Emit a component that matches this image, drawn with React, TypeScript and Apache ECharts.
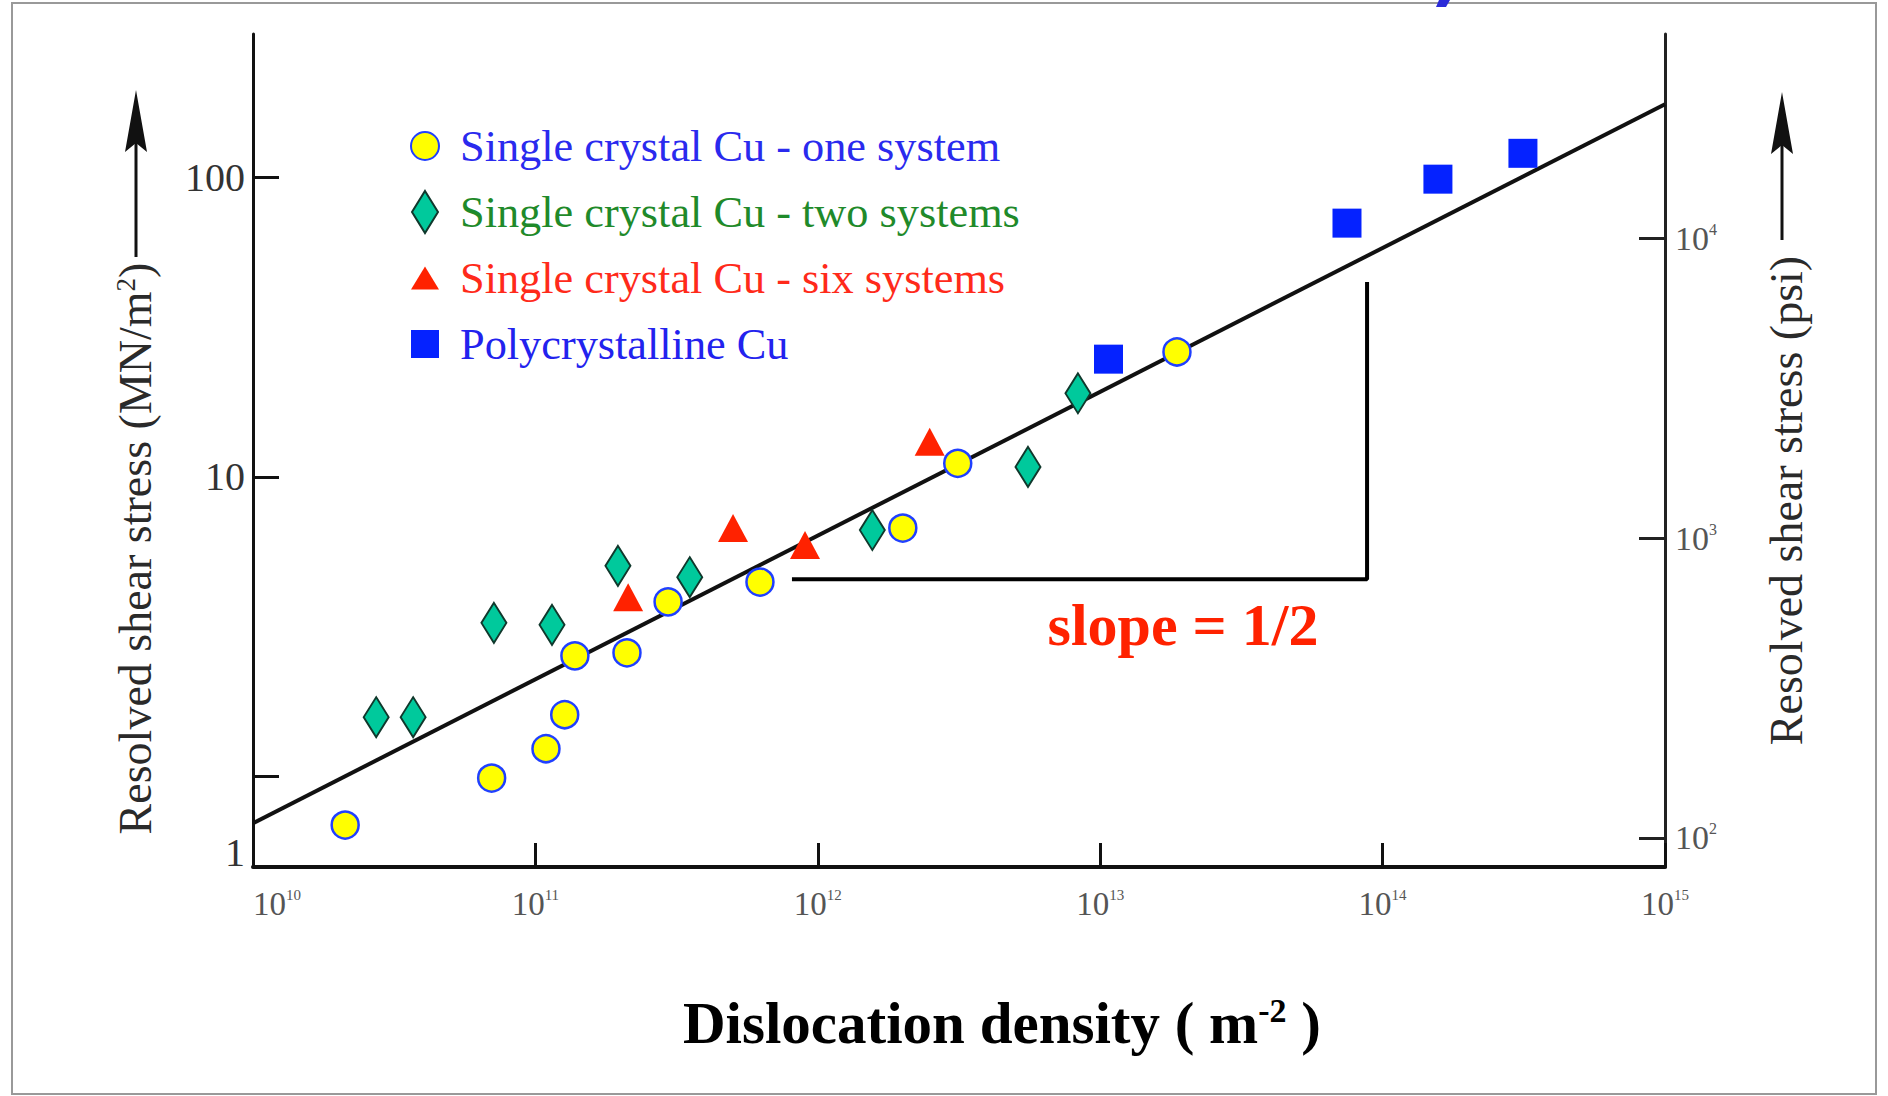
import React, { useEffect, useRef } from 'react';
import * as echarts from 'echarts';

// ---- data (dislocation density m^-2, resolved shear stress MN/m^2) ----
const oneSystem: [number, number][] = [
  [2.12e10, 0.69], [7.0e10, 0.99], [1.09e11, 1.24], [1.27e11, 1.61], [1.38e11, 2.53],
  [2.11e11, 2.59], [2.95e11, 3.83], [6.24e11, 4.46], [2.0e12, 6.75], [3.13e12, 11.1], [1.87e13, 26.1],
];
const twoSystems: [number, number][] = [
  [2.73e10, 1.58], [3.69e10, 1.58], [7.13e10, 3.26], [1.145e11, 3.21], [1.96e11, 5.05],
  [3.52e11, 4.63], [1.56e12, 6.65], [5.55e12, 10.8], [8.34e12, 19.0],
];
const sixSystems: [number, number][] = [
  [2.13e11, 3.97], [5.01e11, 6.75], [9.01e11, 5.93], [2.49e12, 13.1],
];
const polycrystalline: [number, number][] = [
  [1.07e13, 24.7], [7.48e13, 70.2], [1.57e14, 98.4], [3.14e14, 120],
];
const fitLine: [number, number][] = [[1e10, 0.7], [1e15, 175]];
const slopeTriangle: [number, number][] = [[8.1e11, 4.56], [8.81e13, 4.56], [8.81e13, 44.7]];

const xRange = [1e10, 1e15];
const yRangeMN = [0.5, 300];
const yRangePsi = [80, 48000];
const leftTicks = [1, 10, 100];
const leftLabels = [10, 100];
const rightTicks = [100, 1000, 10000];

const seriesNames = [
  'Single crystal Cu - one system',
  'Single crystal Cu - two systems',
  'Single crystal Cu - six systems',
  'Polycrystalline Cu',
];
const legendColors = ['#2a2aee', '#1f8a2a', '#ff2a1a', '#2222ee'];

const FONT = '"Liberation Serif", "Times New Roman", serif';

const expLabel = (v: number) => {
  const l = Math.log10(v);
  const e = Math.round(l);
  if (Math.abs(l - e) > 1e-6) return '';
  return `{b|10}{s|${e}}`;
};

export default function App() {
  const ref = useRef<HTMLDivElement>(null);

  useEffect(() => {
    if (!ref.current) return;
    const chart = echarts.init(ref.current, undefined, { renderer: 'svg' });

    const option: any = {
      animation: false,
      backgroundColor: '#ffffff',
      textStyle: { fontFamily: FONT },
      grid: { left: 253, right: 223, top: 34, bottom: 229, containLabel: false },
      legend: {
        orient: 'vertical',
        left: 405,
        top: 119,
        itemWidth: 28,
        itemHeight: 42,
        itemGap: 22,
        selectedMode: false,
        textStyle: { fontFamily: FONT, fontSize: 44.3, padding: [0, 0, 0, 16] },
        data: [
          { name: seriesNames[0], icon: 'path://M0,10 A10,10 0 1,1 20,10 A10,10 0 1,1 0,10 Z', textStyle: { color: legendColors[0] } },
          { name: seriesNames[1], icon: 'path://M6.5,0 L13,10.5 L6.5,21 L0,10.5 Z', textStyle: { color: legendColors[1] } },
          { name: seriesNames[2], icon: 'path://M14,0 L28,23 L0,23 Z', textStyle: { color: legendColors[2] } },
          { name: seriesNames[3], icon: 'path://M0,0 L20,0 L20,20 L0,20 Z', textStyle: { color: legendColors[3] } },
        ],
      },
      xAxis: {
        type: 'log',
        logBase: 10,
        min: xRange[0],
        max: xRange[1],
        axisLine: { show: true, lineStyle: { color: '#111', width: 4 } },
        axisTick: { show: true, inside: true, length: 24, lineStyle: { color: '#111', width: 3 } },
        axisLabel: {
          formatter: expLabel,
          margin: 20,
          alignMinLabel: 'left',
          rich: {
            b: { fontSize: 33, color: '#555', fontFamily: FONT },
            s: { fontSize: 15, color: '#555', fontFamily: FONT, lineHeight: 6, verticalAlign: 'top' },
          },
        },
        splitLine: { show: false },
        name: 'Dislocation density ( m{sup|-2} )',
        nameLocation: 'middle',
        nameGap: 126,
        nameTextStyle: {
          fontSize: 59,
          fontWeight: 'bold',
          color: '#000',
          fontFamily: FONT,
          padding: [0, 0, 0, 86],
          rich: {
            sup: { fontSize: 34, fontWeight: 'bold', color: '#000', fontFamily: FONT, lineHeight: 4, verticalAlign: 'top' },
          },
        },
      },
      yAxis: [
        {
          type: 'log',
          logBase: 10,
          min: yRangeMN[0],
          max: yRangeMN[1],
          position: 'left',
          axisLine: { show: true, onZero: false, lineStyle: { color: '#111', width: 3 } },
          axisTick: { show: true, inside: true, length: 26, customValues: leftTicks, lineStyle: { color: '#111', width: 3 } },
          axisLabel: {
            customValues: leftLabels,
            formatter: (v: number) => String(Math.round(v)),
            fontSize: 40,
            color: '#333',
            fontFamily: FONT,
            margin: 8,
          },
          splitLine: { show: false },
          name: 'Resolved shear stress (MN/m{sup|2})',
          nameLocation: 'middle',
          nameRotate: 90,
          nameGap: 95,
          nameTextStyle: {
            fontSize: 46,
            color: '#2a2a2a',
            fontFamily: FONT,
            padding: [0, 196, 0, 0],
            rich: { sup: { fontSize: 27, color: '#2a2a2a', fontFamily: FONT, lineHeight: 6, verticalAlign: 'top' } },
          },
        },
        {
          type: 'log',
          logBase: 10,
          min: yRangePsi[0],
          max: yRangePsi[1],
          position: 'right',
          axisLine: { show: true, onZero: false, lineStyle: { color: '#222', width: 3 } },
          axisTick: { show: true, inside: true, length: 26, customValues: rightTicks, lineStyle: { color: '#222', width: 3 } },
          axisLabel: {
            customValues: rightTicks,
            formatter: expLabel,
            margin: 10,
            rich: {
              b: { fontSize: 34, color: '#555', fontFamily: FONT },
              s: { fontSize: 16, color: '#555', fontFamily: FONT, lineHeight: 6, verticalAlign: 'top' },
            },
          },
          splitLine: { show: false },
          name: 'Resolved shear stress (psi)',
          nameLocation: 'middle',
          nameRotate: 90,
          nameGap: 98,
          nameTextStyle: { fontSize: 46, color: '#2a2a2a', fontFamily: FONT, padding: [0, 100, 0, 0] },
        },
      ],
      series: [
        {
          name: 'fit',
          type: 'line',
          data: fitLine,
          symbol: 'none',
          silent: true,
          lineStyle: { color: '#111', width: 4 },
          z: 1,
        },
        {
          name: 'slope',
          type: 'line',
          data: slopeTriangle,
          symbol: 'none',
          silent: true,
          lineStyle: { color: '#000', width: 4 },
          z: 1,
        },
        {
          name: seriesNames[0],
          type: 'scatter',
          data: oneSystem,
          symbol: 'circle',
          symbolSize: 27,
          itemStyle: { color: '#ffff00', borderColor: '#2040ff', borderWidth: 2.5, opacity: 1 },
          z: 3,
        },
        {
          name: seriesNames[1],
          type: 'scatter',
          data: twoSystems,
          symbol: 'diamond',
          symbolSize: [25, 40],
          itemStyle: { color: '#00c99c', borderColor: '#10382c', borderWidth: 2, opacity: 1 },
          z: 3,
        },
        {
          name: seriesNames[2],
          type: 'scatter',
          data: sixSystems,
          symbol: 'triangle',
          symbolSize: [30, 28],
          itemStyle: { color: '#ff2200', opacity: 1 },
          z: 3,
        },
        {
          name: seriesNames[3],
          type: 'scatter',
          data: polycrystalline,
          symbol: 'rect',
          symbolSize: 29,
          itemStyle: { color: '#0522ff', opacity: 1 },
          z: 3,
        },
      ],
      graphic: [
        { type: 'rect', z: -10, shape: { x: 12, y: 3, width: 1864, height: 1091 }, style: { fill: 'none', stroke: '#999', lineWidth: 2 } },
        { type: 'polygon', shape: { points: [[1439, 0], [1450, 0], [1446, 7], [1436, 7]] }, style: { fill: '#2a2ad8' } },
        { type: 'line', shape: { x1: 136, y1: 257, x2: 136, y2: 135 }, style: { stroke: '#111', lineWidth: 3 } },
        { type: 'polygon', shape: { points: [[136, 90], [125, 152], [136, 143], [147, 152]] }, style: { fill: '#111' } },
        { type: 'line', shape: { x1: 1782, y1: 240, x2: 1782, y2: 135 }, style: { stroke: '#111', lineWidth: 3 } },
        { type: 'polygon', shape: { points: [[1782, 92], [1771, 154], [1782, 145], [1793, 154]] }, style: { fill: '#111' } },
        {
          type: 'text', x: 245, y: 852,
          style: { text: '1', fontSize: 40, fontFamily: FONT, fill: '#333', align: 'right', verticalAlign: 'middle' },
        },
        {
          type: 'text', x: 1183, y: 625,
          style: { text: 'slope = 1/2', fontSize: 60, fontWeight: 'bold', fontFamily: FONT, fill: '#ff2200', align: 'center', verticalAlign: 'middle' },
        },
      ],
    };

    chart.setOption(option);
    return () => chart.dispose();
  }, []);

  return (
    <div
      ref={ref}
      style={{ position: 'absolute', left: 0, top: 0, width: 1888, height: 1096, background: '#fff' }}
    />
  );
}
